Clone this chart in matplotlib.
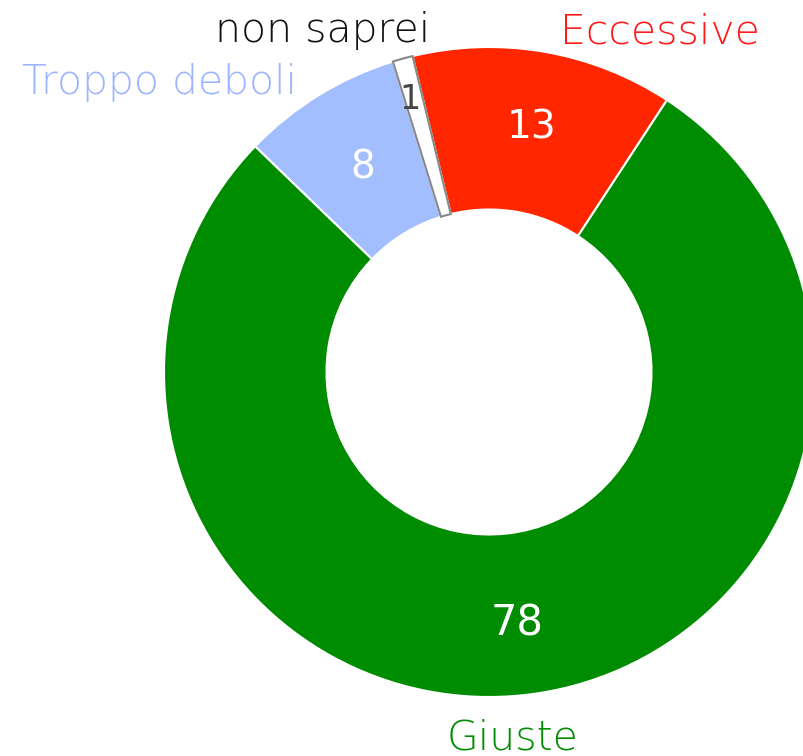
import matplotlib
matplotlib.use("Agg")
import matplotlib.pyplot as plt
import numpy as np

categories = ["Eccessive", "Giuste", "Troppo deboli", "non saprei"]
values = [13, 78, 8, 1]
colors = ["#FF2600", "#008C00", "#A3BEFF", "#FFFFFF"]
label_colors = ["#FF1A1A", "#008C00", "#9DB5FF", "#111111"]

plt.rcParams['font.family'] = ['DejaVu Sans']

W, H = 804, 756
fig = plt.figure(figsize=(W / 100, H / 100), dpi=100)
ax = fig.add_axes([0, 0, 1, 1])
ax.set_xlim(0, W)
ax.set_ylim(0, H)
ax.axis('off')

cx, cy = 489, H - 372
R = 325
start = 103.6

wedges, _ = ax.pie(values, colors=colors, startangle=start, counterclock=False,
                   radius=R, center=(cx, cy),
                   wedgeprops=dict(width=R * 0.5, edgecolor='white', linewidth=1.5))
wedges[3].set_edgecolor('#888888')
wedges[3].set_linewidth(1.5)
wedges[3].set_zorder(3)

# value labels
total = sum(values)
ang = start
num_dist = [0.765, 0.78, 0.74, 0.87]
num_colors = ['white', 'white', 'white', '#444444']
num_sizes = [28, 30, 28, 24]
for i, v in enumerate(values):
    span = 360 * v / total
    mid = np.deg2rad(ang - span / 2)
    ang -= span
    r = R * num_dist[i]
    ax.text(cx + r * np.cos(mid) - (4 if i == 3 else 0), cy + r * np.sin(mid), str(v),
            color=num_colors[i], fontsize=num_sizes[i], ha='center', va='center',
            zorder=5)

# category labels
label_pos = [(660, H - 32, 'center'), (513, H - 738, 'center'),
             (297, H - 83, 'right'), (323, H - 30, 'center')]
for i, (x, y, ha) in enumerate(label_pos):
    ax.text(x, y, categories[i], color=label_colors[i], fontsize=29.5,
            ha=ha, va='center', fontweight='light')

ax.set_aspect('equal')
ax.set_xlim(0, W)
ax.set_ylim(0, H)
fig.savefig('out.png', dpi=100)
